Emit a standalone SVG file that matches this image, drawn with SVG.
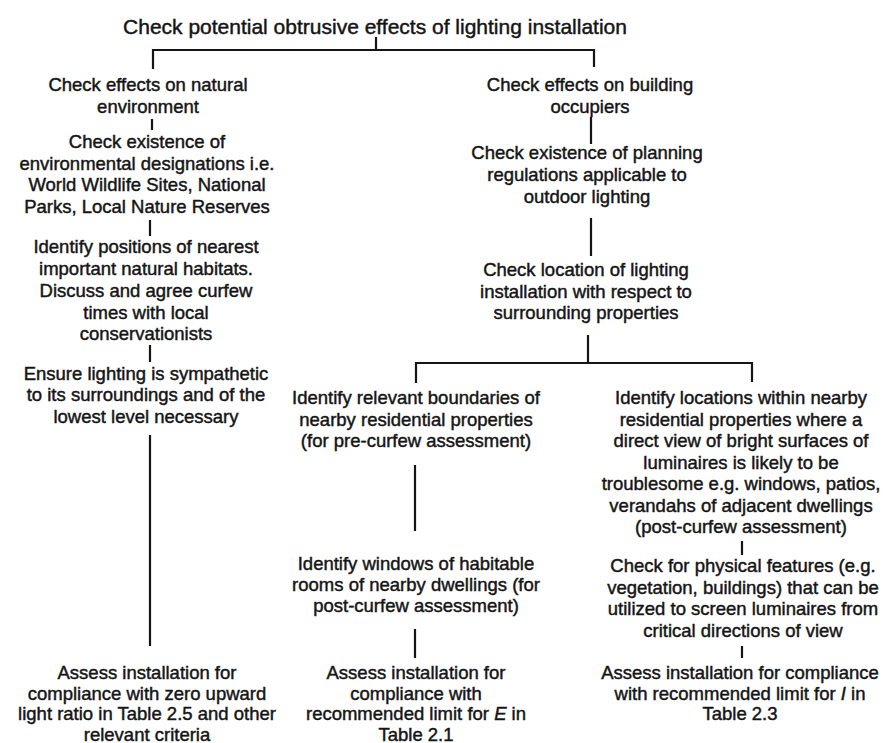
<svg xmlns="http://www.w3.org/2000/svg" width="885" height="743" viewBox="0 0 885 743">
<style>
text{font-family:"Liberation Sans",Arial,Helvetica,sans-serif;font-size:18.5px;fill:#151515;stroke:#151515;stroke-width:0.45;text-anchor:middle}
.title{font-size:21px}
.c{stroke:#151515;stroke-width:2.2;fill:none;stroke-linecap:square}
.it{font-style:italic}
</style>
<rect width="885" height="743" fill="#ffffff"/>
<g id="connectors">
<path class="c" d="M376 38V50M153 50H594M153 50V68M594 50V66"/>
<path class="c" d="M152 120V129M150 221V235M150 346V361M150 436V645"/>
<path class="c" d="M591 118V143M591 219V255M588 336V363M416 363H752M416 363V382M752 363V381"/>
<path class="c" d="M415 466V530M415 630V657"/>
<path class="c" d="M742 542V554M742 647V657"/>
</g>
<g id="n_title"><text class="title" x="375" y="34">Check potential obtrusive effects of lighting installation</text></g>
<g id="n_natural"><text x="148" y="91">Check effects on natural</text><text x="148" y="113">environment</text></g>
<g id="n_designations"><text x="147" y="148">Check existence of</text><text x="147" y="169.5">environmental designations i.e.</text><text x="147" y="191">World Wildlife Sites, National</text><text x="147" y="213">Parks, Local Nature Reserves</text></g>
<g id="n_habitats"><text x="146" y="253">Identify positions of nearest</text><text x="146" y="275">important natural habitats.</text><text x="146" y="297">Discuss and agree curfew</text><text x="146" y="319">times with local</text><text x="146" y="340">conservationists</text></g>
<g id="n_sympathetic"><text x="146" y="380">Ensure lighting is sympathetic</text><text x="146" y="401">to its surroundings and of the</text><text x="146" y="423">lowest level necessary</text></g>
<g id="n_assess_ulr"><text x="147" y="679">Assess installation for</text><text x="147" y="699.5">compliance with zero upward</text><text x="147" y="720">light ratio in Table 2.5 and other</text><text x="147" y="740.5">relevant criteria</text></g>
<g id="n_occupiers"><text x="590" y="91">Check effects on building</text><text x="590" y="113">occupiers</text></g>
<g id="n_planning"><text x="587" y="159">Check existence of planning</text><text x="587" y="181">regulations applicable to</text><text x="587" y="203">outdoor lighting</text></g>
<g id="n_location"><text x="586" y="276">Check location of lighting</text><text x="586" y="298">installation with respect to</text><text x="586" y="319">surrounding properties</text></g>
<g id="n_boundaries"><text x="416" y="404">Identify relevant boundaries of</text><text x="416" y="426">nearby residential properties</text><text x="416" y="447">(for pre-curfew assessment)</text></g>
<g id="n_windows"><text x="416" y="570">Identify windows of habitable</text><text x="416" y="591">rooms of nearby dwellings (for</text><text x="416" y="612">post-curfew assessment)</text></g>
<g id="n_assess_e"><text x="416" y="679">Assess installation for</text><text x="416" y="699.5">compliance with</text><text x="416" y="720">recommended limit for <tspan class="it">E</tspan> in</text><text x="416" y="740.5">Table 2.1</text></g>
<g id="n_locations"><text x="741" y="404">Identify locations within nearby</text><text x="741" y="425.5">residential properties where a</text><text x="741" y="447">direct view of bright surfaces of</text><text x="741" y="468.5">luminaires is likely to be</text><text x="741" y="490">troublesome e.g. windows, patios,</text><text x="741" y="511.5">verandahs of adjacent dwellings</text><text x="741" y="533">(post-curfew assessment)</text></g>
<g id="n_features"><text x="743" y="572">Check for physical features (e.g.</text><text x="743" y="593.5">vegetation, buildings) that can be</text><text x="743" y="615">utilized to screen luminaires from</text><text x="743" y="636.5">critical directions of view</text></g>
<g id="n_assess_i"><text x="740" y="679">Assess installation for compliance</text><text x="740" y="699.5">with recommended limit for <tspan class="it">I</tspan> in</text><text x="740" y="720">Table 2.3</text></g>
</svg>
